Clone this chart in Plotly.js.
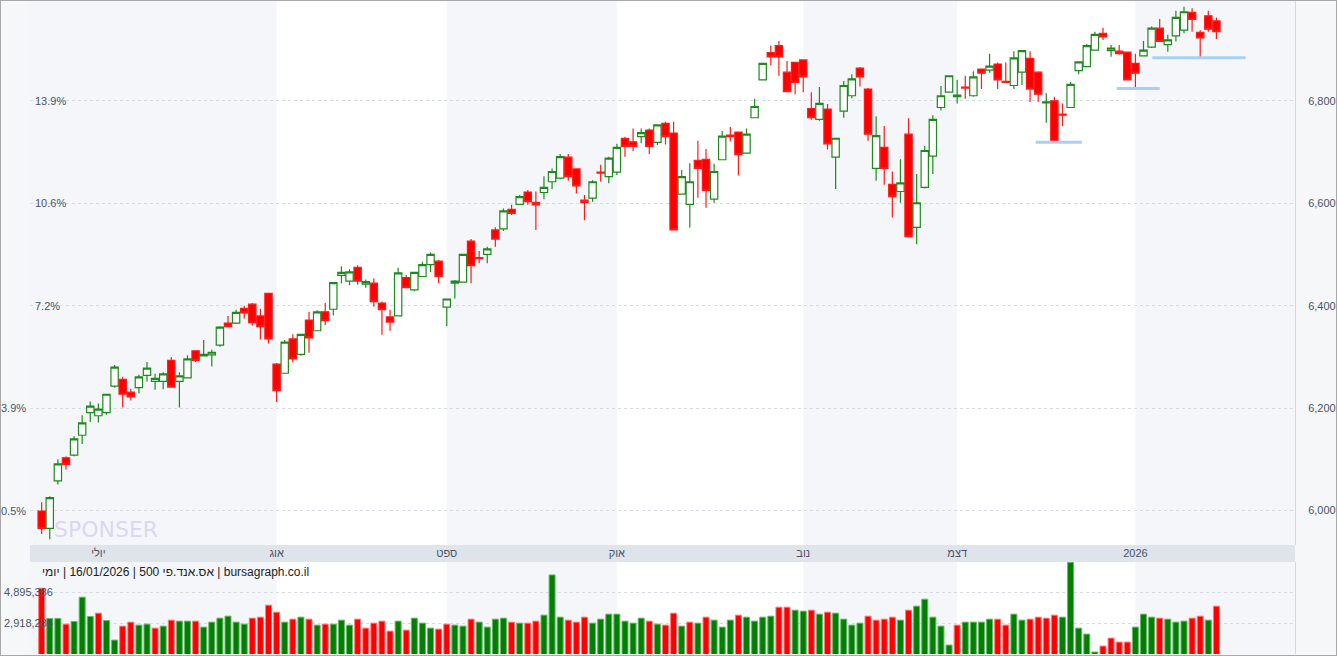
<!DOCTYPE html>
<html><head><meta charset="utf-8">
<script src="https://cdn.plot.ly/plotly-3.0.1.min.js"></script>
<style>html,body{margin:0;padding:0;background:#fff;}#chart{width:1335px;height:654px;border:1px solid #a8a8a8;}</style>
</head><body><div id="chart"></div><script>
// ---- data ----
const openP = [5999,5965,6058,6103,6108,6147,6191,6185,6191,6243,
6256,6231,6240,6264,6252,6252,6293,6252,6259,6312,
6302,6304,6323,6366,6366,6395,6403,6380,6424,6286,
6268,6335,6305,6372,6351,6388,6393,6459,6448,6475,
6442,6444,6405,6378,6380,6455,6431,6457,6480,6487,
6397,6444,6446,6526,6494,6500,6548,6550,6588,6598,
6622,6602,6621,6642,6649,6690,6667,6606,6610,6661,
6652,6661,6727,6720,6730,6743,6719,6756,6737,6618,
6598,6684,6686,6608,6685,6733,6739,6698,6767,6841,
6894,6908,6856,6875,6880,6785,6764,6784,6690,6780,
6810,6864,6823,6668,6709,6637,6623,6735,6553,6631,
6692,6787,6817,6808,6827,6810,6862,6860,6872,6838,
6830,6856,6883,6856,6796,6800,6774,6787,6859,6867,
6899,6932,6898,6897,6895,6873,6888,6905,6942,6910,
6927,6938,6973,6934,6966,6956];
const highP = [6016,6028,6100,6106,6145,6186,6213,6209,6227,6284,
6261,6238,6265,6290,6267,6270,6300,6270,6303,6312,
6333,6314,6360,6380,6392,6400,6405,6394,6424,6288,
6333,6344,6344,6388,6391,6405,6445,6477,6471,6479,
6451,6453,6408,6392,6474,6460,6465,6486,6504,6489,
6413,6450,6500,6530,6507,6515,6553,6590,6597,6616,
6626,6623,6653,6668,6696,6696,6668,6616,6645,6675,
6691,6716,6730,6746,6746,6746,6753,6759,6759,6665,
6678,6722,6706,6677,6741,6749,6739,6746,6804,6873,
6908,6917,6878,6875,6880,6817,6827,6794,6727,6839,
6852,6866,6825,6770,6751,6662,6686,6766,6657,6712,
6772,6829,6849,6841,6849,6858,6862,6892,6875,6875,
6897,6898,6897,6858,6815,6808,6795,6837,6876,6911,
6935,6943,6909,6909,6895,6892,6917,6945,6960,6929,
6976,6984,6981,6938,6976,6963];
const lowP = [5954,5944,6051,6080,6106,6130,6173,6172,6187,6240,
6201,6215,6229,6252,6236,6237,6241,6201,6259,6290,
6302,6281,6320,6359,6364,6375,6361,6334,6326,6212,
6268,6289,6302,6308,6351,6362,6381,6444,6440,6441,
6435,6398,6343,6351,6380,6435,6428,6457,6466,6444,
6360,6414,6446,6444,6483,6483,6515,6546,6577,6597,
6597,6548,6608,6628,6647,6644,6619,6567,6603,6642,
6639,6655,6691,6702,6717,6696,6714,6715,6548,6618,
6552,6611,6591,6601,6685,6721,6654,6698,6767,6841,
6869,6849,6818,6813,6817,6763,6761,6705,6628,6767,
6805,6828,6722,6644,6636,6572,6601,6534,6520,6629,
6657,6781,6817,6795,6804,6808,6823,6855,6823,6836,
6823,6831,6798,6798,6757,6718,6751,6787,6852,6867,
6899,6919,6886,6890,6841,6823,6888,6903,6916,6896,
6916,6932,6935,6883,6935,6921];
const closeP = [5965,6025,6091,6090,6140,6171,6204,6198,6227,6280,
6227,6222,6261,6278,6258,6267,6241,6263,6296,6293,
6305,6309,6358,6359,6387,6386,6367,6359,6335,6234,
6329,6296,6344,6337,6388,6371,6445,6465,6466,6448,
6447,6408,6392,6368,6464,6435,6465,6480,6500,6457,
6413,6448,6500,6478,6492,6511,6530,6585,6580,6613,
6603,6597,6631,6662,6691,6652,6634,6601,6642,6659,
6688,6709,6711,6711,6738,6711,6753,6730,6548,6652,
6642,6668,6625,6662,6731,6730,6695,6735,6789,6873,
6886,6886,6818,6836,6847,6767,6795,6716,6727,6830,
6843,6847,6735,6732,6668,6613,6640,6535,6601,6703,
6764,6810,6849,6811,6825,6847,6854,6868,6841,6836,
6884,6898,6823,6813,6798,6720,6772,6832,6876,6908,
6930,6925,6903,6892,6841,6854,6899,6942,6916,6919,
6963,6974,6959,6923,6940,6935];
const volume = [5148400,3213800,3213800,2852400,3022500,4574400,3341400,3554000,3086300,1832000,
2724900,2979800,2788600,2852400,2597300,2724900,3107600,3043800,3043800,3043800,
2661000,2979800,3235100,3362600,2979800,2852400,3235100,3299000,4064200,3617800,
2979800,3171300,3299000,3171300,2788600,2852400,2852400,3107600,2788600,3171300,
2597300,2916200,3043800,2406000,3043800,2469800,3235100,2916200,2597300,2533500,
2852400,2788600,2724900,3171300,2979800,2661000,3171300,3235100,2979800,2916200,
2916200,3043800,3426400,5998700,3299000,3107600,2979800,3299000,2916200,3171300,
3490200,3490200,3043800,2916200,3235100,3043800,2852400,2788600,3554000,2724900,
2979800,2916200,3299000,3107600,2661000,3107600,3426400,3299000,3043800,3299000,
3362600,3936600,3936600,3745300,3681500,3745300,3490200,3617800,3554000,3171300,
2788600,2916200,3362600,3107600,3171300,3299000,3107600,3745300,4000400,4447000,
3299000,2724900,1513100,2788600,2979800,2979800,2979800,3171300,3171300,2788600,
3490200,3107600,3171300,3299000,3235100,3426400,3299000,6806600,2597300,2214600,
1066600,1449300,1959500,1704400,1704400,2661000,3490200,3299000,3235100,3171300,
2979800,3043800,3235100,3362600,3107600,4000400];
// 1 = green volume bar, 0 = red volume bar
const volUp = [0,1,1,0,1,1,1,0,1,1, 0,0,1,1,0,1,0,1,1,0, 1,1,1,1,1,1,0,0,0,0,
1,0,1,0,1,0,1,1,1,0, 0,0,0,0,1,0,1,1,1,0, 0,1,1,0,1,1,1,1,0,1,
0,0,1,1,1,0,0,0,1,1, 1,1,1,1,1,0,1,0,0,1, 0,1,0,1,1,1,0,1,1,1,
1,0,0,1,1,0,1,0,1,1, 1,1,0,0,0,0,1,0,1,1, 1,1,1,0,1,1,1,1,0,0,
1,1,0,0,0,0,1,1,1,1, 1,0,0,0,0,1,1,1,0,1, 1,1,0,0,1,0];
const monthStarts = [7,29,50,71,94,113,135];
const monthLabels = ['יולי','אוג','ספט','אוק','נוב','דצמ','2026'];
const shadedMonths = [[-2,29],[50,71],[94,113],[135,160]];
const priceTicks = [6000,6200,6400,6600,6800];
const priceLabels = ['6,000','6,200','6,400','6,600','6,800'];
const pctLabels = ['0.5%','3.9%','7.2%','10.6%','13.9%'];
const pctInside = [0,0,1,1,1];
const volTicks = [2918286,4895386];
const volLabels = ['2,918,286','4,895,386'];
const supportLevel = [6719,6824,6884];
const supportFrom = [122.7,132.7,137.1];
const supportTo = [128.4,138.0,148.6];
const infoParts = ['יומי', '16/01/2026', 'אס.אנד.פי 500', 'bursagraph.co.il'];

// ---- build ----
const idx = closeP.map((_, i) => i);
const xRange = [-1.44, 154.7];
const priceRange = [5932.6, 6995];
const volRange = [941000, 6827800];
const MAIN_BOTTOM = 0.1669, VOL_TOP = 0.1409;
const LRM = '\u200E';
const infoText = infoParts.map(s => s + LRM).join(' | ');

const candle = {
  type: 'candlestick', x: idx, open: openP, high: highP, low: lowP, close: closeP,
  xaxis: 'x', yaxis: 'y', hoverinfo: 'skip', whiskerwidth: 0,
  increasing: {line: {color: '#1e8a1e', width: 1.2}, fillcolor: '#ffffff'},
  decreasing: {line: {color: '#ff1a1a', width: 1.2}, fillcolor: '#ff0000'}
};
const volBars = {
  type: 'bar', x: idx, y: volume, xaxis: 'x2', yaxis: 'y2', width: 0.74, hoverinfo: 'skip',
  marker: {color: volUp.map(u => u ? '#008000' : '#ff0000'),
           line: {color: volUp.map(u => u ? '#6cb56c' : '#ff7b7b'), width: 1}}
};

const shapes = [];
shadedMonths.forEach(([a, b]) => shapes.push({type: 'rect', xref: 'x', yref: 'paper', x0: a, x1: b, y0: 0, y1: 1,
  fillcolor: '#f4f6f9', line: {width: 0}, layer: 'below'}));
shapes.push({type: 'rect', xref: 'paper', yref: 'paper', x0: 0, x1: 1, y0: VOL_TOP, y1: MAIN_BOTTOM,
  fillcolor: '#dfe3ea', line: {width: 0}, layer: 'below'});
supportLevel.forEach((lv, k) => shapes.push({type: 'line', xref: 'x', yref: 'y', x0: supportFrom[k], x1: supportTo[k],
  y0: lv, y1: lv, line: {color: '#a8d0f5', width: 3}, layer: 'above'}));

const font = 'Arial, Liberation Sans, sans-serif';
const annotations = [];
annotations.push({xref: 'paper', yref: 'paper', x: 0, y: VOL_TOP, xshift: 10, yshift: -1, xanchor: 'left', yanchor: 'top',
  text: infoText, showarrow: false, font: {family: font, size: 12, color: '#222'}});
volTicks.forEach((v, k) => annotations.push({xref: 'paper', yref: 'y2', x: 0, y: v, xshift: -28, xanchor: 'left', yanchor: 'middle',
  text: volLabels[k], showarrow: false, font: {family: font, size: 11, color: '#4a5468'}}));
priceTicks.forEach((p, k) => annotations.push({xref: 'paper', yref: 'y', x: 0, y: p,
  xshift: pctInside[k] ? 3 : -2, xanchor: pctInside[k] ? 'left' : 'right', yanchor: 'middle',
  text: pctLabels[k], showarrow: false, font: {family: font, size: 11, color: '#4a5468'}}));
annotations.push({xref: 'paper', yref: 'paper', x: 0.017, y: MAIN_BOTTOM, yshift: 1, xanchor: 'left', yanchor: 'bottom',
  text: 'SPONSER', showarrow: false, font: {family: 'DejaVu Sans, sans-serif', size: 22, color: 'rgba(185,175,235,0.45)'}});

const tickFont = {family: font, size: 11, color: '#4a5468'};
const layout = {
  width: 1335, height: 654, margin: {l: 29, r: 41, t: 0, b: 1},
  paper_bgcolor: '#f6f7f9', plot_bgcolor: '#ffffff', showlegend: false, dragmode: false,
  boxgap: 0.05, boxgroupgap: 0.05,
  xaxis: {domain: [0, 1], range: xRange, anchor: 'y', rangeslider: {visible: false}, showgrid: false, zeroline: false,
    tickvals: monthStarts, ticktext: monthLabels, ticks: '', tickfont: tickFont, showline: false},
  xaxis2: {domain: [0, 1], range: xRange, anchor: 'y2', matches: 'x', showgrid: false, zeroline: false, showticklabels: false, ticks: ''},
  yaxis: {domain: [MAIN_BOTTOM, 1], range: priceRange, side: 'right', tickvals: priceTicks, ticktext: priceLabels,
    tickfont: tickFont, gridcolor: '#d6dae1', griddash: 'dot', zeroline: false, ticks: '', ticklabelstandoff: 10,
    showline: true, linecolor: '#d3d7de', linewidth: 1},
  yaxis2: {domain: [0, VOL_TOP], range: volRange, side: 'right', tickvals: volTicks, showticklabels: false,
    gridcolor: '#d6dae1', griddash: 'dot', zeroline: false, ticks: '', showline: true, linecolor: '#d3d7de', linewidth: 1},
  shapes, annotations
};
Plotly.newPlot('chart', [candle, volBars], layout, {staticPlot: true, displayModeBar: false});
</script></body></html>
